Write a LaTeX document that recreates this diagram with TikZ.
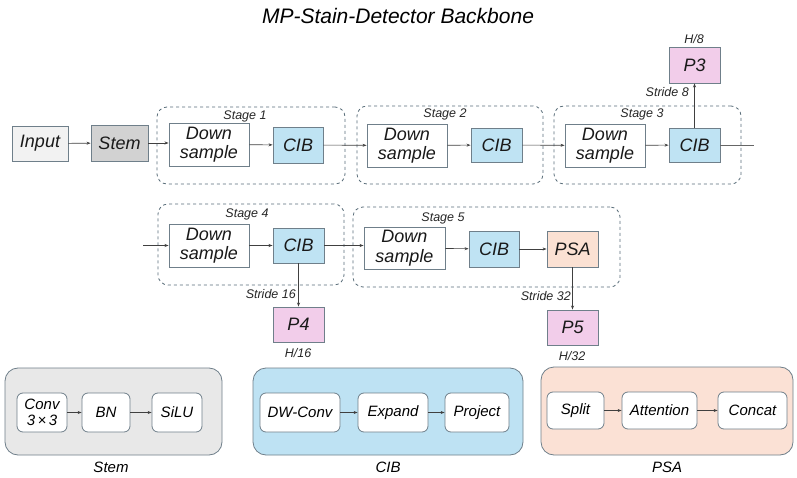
\documentclass[tikz,border=0pt]{standalone}
\usepackage{fontspec}
\setmainfont{Liberation Sans}
\usetikzlibrary{arrows.meta}
\definecolor{edgec}{HTML}{6F7F8A}
\definecolor{dashc}{HTML}{5A6E7A}
\definecolor{cibc}{HTML}{BFE3F3}
\definecolor{stemc}{HTML}{D2D2D2}
\definecolor{inpc}{HTML}{F2F2F2}
\definecolor{pc}{HTML}{F2CDEA}
\definecolor{psac}{HTML}{FBE1D3}
\definecolor{pstemc}{HTML}{E8E8E8}
\definecolor{pcibc}{HTML}{BEE2F3}
\definecolor{ppsac}{HTML}{FBE1D5}
\definecolor{linec}{HTML}{404040}
\tikzset{
  blk/.style={draw=edgec, line width=0.9pt, inner sep=0pt, align=center,
    font=\itshape\fontsize{18}{19.5}\selectfont, text=black!90},
  stagebox/.style={draw=dashc, dashed, line width=0.8pt, rounded corners=10pt, inner sep=0pt},
  panel/.style={draw=edgec, line width=0.8pt, rounded corners=13pt, inner sep=0pt},
  inner/.style={draw=edgec, fill=white, line width=0.8pt, rounded corners=6pt, inner sep=0pt,
    align=center, font=\itshape\fontsize{15}{16}\selectfont},
  lbl/.style={font=\itshape\fontsize{12.5}{13}\selectfont, text=black!85, inner sep=0pt},
  plbl/.style={font=\itshape\fontsize{15}{16}\selectfont, inner sep=0pt},
  arr/.style={-{Stealth[length=4pt,width=3pt]}, draw=linec, line width=0.6pt},
  ln/.style={draw=linec!80, line width=0.7pt},
}
\begin{document}
\begin{tikzpicture}[x=1pt,y=-1pt]
\useasboundingbox[fill=white] (0,0) rectangle (797,478);
\node[font=\itshape\fontsize{21}{23}\selectfont] (title) at (398,16) {MP-Stain-Detector Backbone};

% stage boxes
\node[stagebox, minimum width=188, minimum height=77] (s1) at (251,145.5) {};
\node[stagebox, minimum width=186, minimum height=78] (s2) at (450,145) {};
\node[stagebox, minimum width=187, minimum height=78] (s3) at (647.5,145) {};
\node[stagebox, minimum width=186, minimum height=81] (s4) at (251,244.5) {};
\node[stagebox, minimum width=267, minimum height=80] (s5) at (486.5,247) {};
\node[lbl] (s1l) at (245,116) {Stage 1};
\node[lbl] (s2l) at (445,114) {Stage 2};
\node[lbl] (s3l) at (642,114) {Stage 3};
\node[lbl] (s4l) at (247,214) {Stage 4};
\node[lbl] (s5l) at (443,218) {Stage 5};

% row 1
\node[blk, fill=inpc, minimum width=56, minimum height=35] (inp) at (40,143.5) {Input};
\node[blk, fill=stemc, minimum width=57, minimum height=36] (stem) at (119.5,143) {Stem};
\node[blk, fill=white, minimum width=80, minimum height=43] (ds1) at (209,144.5) {Down\\sample};
\node[blk, fill=cibc, minimum width=50, minimum height=36] (cib1) at (298,145) {CIB};
\node[blk, fill=white, minimum width=80, minimum height=43] (ds2) at (407,145.5) {Down\\sample};
\node[blk, fill=cibc, minimum width=51, minimum height=34] (cib2) at (496.5,145) {CIB};
\node[blk, fill=white, minimum width=80, minimum height=43] (ds3) at (605,145.5) {Down\\sample};
\node[blk, fill=cibc, minimum width=51, minimum height=34] (cib3) at (694.5,145) {CIB};
\node[blk, fill=pc, minimum width=51, minimum height=36] (p3) at (694.5,65) {P3};
\coordinate (out3) at (754,145);
\node[lbl] (h8) at (694,39) {H/8};
\node[lbl, anchor=east] (st8) at (689,92) {Stride 8};

% row 2
\coordinate (in4) at (143,245.5);
\node[blk, fill=white, minimum width=80, minimum height=43] (ds4) at (209,245.5) {Down\\sample};
\node[blk, fill=cibc, minimum width=51, minimum height=35] (cib4) at (298.5,245.5) {CIB};
\node[blk, fill=pc, minimum width=51, minimum height=35] (p4) at (298.5,324.5) {P4};
\node[lbl, anchor=east] (st16) at (296,294) {Stride 16};
\node[lbl] (h16) at (298,353) {H/16};
\node[blk, fill=white, minimum width=81, minimum height=42] (ds5) at (404.5,248) {Down\\sample};
\node[blk, fill=cibc, minimum width=50, minimum height=36] (cib5) at (494,249) {CIB};
\node[blk, fill=psac, minimum width=51, minimum height=36] (psa) at (572.5,249) {PSA};
\node[blk, fill=pc, minimum width=51, minimum height=35] (p5) at (572.5,327.5) {P5};
\node[lbl, anchor=east] (st32) at (571,296) {Stride 32};
\node[lbl] (h32) at (572,356) {H/32};

% connectors
\draw[arr] (inp) -- (stem);
\draw[arr] (stem.east) -- (ds1.west |- stem.east);
\draw[arr] (ds1) -- (cib1);
\draw[arr] (cib1) -- (ds2);
\draw[arr] (ds2) -- (cib2);
\draw[arr] (cib2) -- (ds3);
\draw[arr] (ds3) -- (cib3);
\draw[ln] (cib3) -- (out3);
\draw[arr] (cib3) -- (p3);
\draw[arr] (in4) -- (ds4);
\draw[arr] (ds4) -- (cib4);
\draw[arr] (cib4) -- (p4);
\draw[arr] (cib4.east) -- (ds5.west |- cib4.east);
\draw[arr] (ds5) -- (cib5);
\draw[arr] (cib5) -- (psa);
\draw[arr] (psa) -- (p5);

% bottom panels
\node[panel, fill=pstemc, minimum width=217, minimum height=87] (pstem) at (113.5,411.5) {};
\node[panel, fill=pcibc, minimum width=270, minimum height=87] (pcib) at (388,411.5) {};
\node[panel, fill=ppsac, minimum width=252, minimum height=88] (ppsa) at (667,411) {};
\node[plbl] (pstemL) at (111,467) {Stem};
\node[plbl] (pcibL) at (388,467) {CIB};
\node[plbl] (ppsaL) at (667,467) {PSA};

\node[inner, minimum width=50, minimum height=39] (conv) at (42,412.5) {Conv\\3\,×\,3};
\node[inner, minimum width=48, minimum height=39] (bn) at (106,412.5) {BN};
\node[inner, minimum width=50, minimum height=39] (silu) at (177,412.5) {SiLU};
\node[inner, minimum width=80, minimum height=39] (dw) at (300,412.5) {DW-Conv};
\node[inner, minimum width=70, minimum height=39] (exp) at (393,412.5) {Expand};
\node[inner, minimum width=64, minimum height=39] (proj) at (477,412.5) {Project};
\node[inner, minimum width=57, minimum height=37] (split) at (575.5,410.5) {Split};
\node[inner, minimum width=75, minimum height=37] (att) at (659.5,410.5) {Attention};
\node[inner, minimum width=69, minimum height=37] (cat) at (752.5,410.5) {Concat};
\draw[arr] (conv) -- (bn);
\draw[arr] (bn) -- (silu);
\draw[arr] (dw) -- (exp);
\draw[arr] (exp) -- (proj);
\draw[arr] (split) -- (att);
\draw[arr] (att) -- (cat);
\end{tikzpicture}
\end{document}
